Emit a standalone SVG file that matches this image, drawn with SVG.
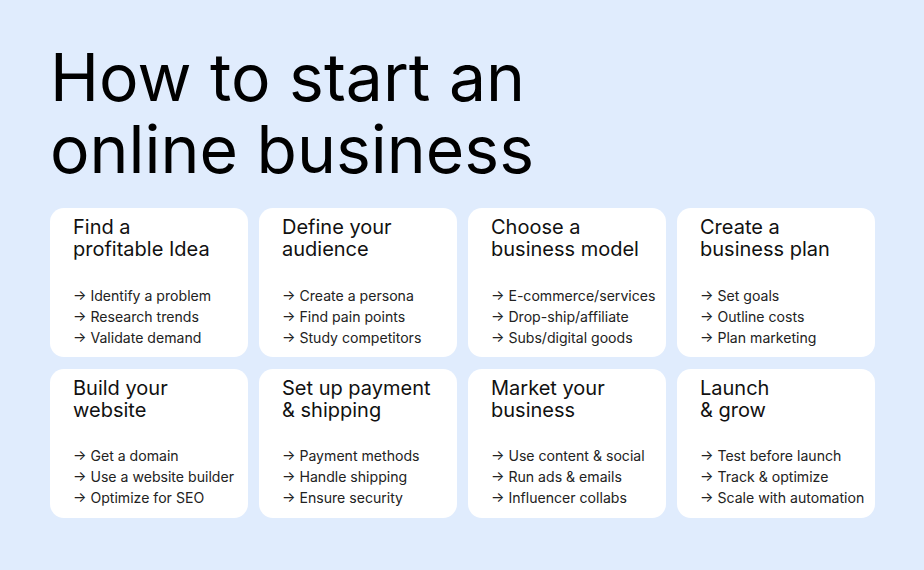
<svg xmlns="http://www.w3.org/2000/svg" width="924" height="570" viewBox="0 0 924 570">
<style>
.card{fill:#fff}
.h{font-family:Inter,"Liberation Sans",sans-serif;font-size:20px;fill:#111}
.b{font-family:Inter,"Liberation Sans",sans-serif;font-size:14.1px;fill:#222}
.t{font-family:Inter,"Liberation Sans",sans-serif;font-size:66px;fill:#000}
</style>
<rect width="924" height="570" fill="#e0ecfd"/>
<text class="t" x="50" y="101">How to start an</text>
<text class="t" x="50" y="173">online business</text>
<g id="n1"><rect class="card" x="50" y="208" width="198" height="149" rx="14"/><text class="h" x="73" y="234">Find a</text><text class="h" x="73" y="256">profitable Idea</text><text class="b" x="73" y="301">→ Identify a problem</text><text class="b" x="73" y="322">→ Research trends</text><text class="b" x="73" y="343">→ Validate demand</text></g>
<g id="n2"><rect class="card" x="259" y="208" width="198" height="149" rx="14"/><text class="h" x="282" y="234">Define your</text><text class="h" x="282" y="256">audience</text><text class="b" x="282" y="301">→ Create a persona</text><text class="b" x="282" y="322">→ Find pain points</text><text class="b" x="282" y="343">→ Study competitors</text></g>
<g id="n3"><rect class="card" x="468" y="208" width="198" height="149" rx="14"/><text class="h" x="491" y="234">Choose a</text><text class="h" x="491" y="256">business model</text><text class="b" x="491" y="301">→ E-commerce/services</text><text class="b" x="491" y="322">→ Drop-ship/affiliate</text><text class="b" x="491" y="343">→ Subs/digital goods</text></g>
<g id="n4"><rect class="card" x="677" y="208" width="198" height="149" rx="14"/><text class="h" x="700" y="234">Create a</text><text class="h" x="700" y="256">business plan</text><text class="b" x="700" y="301">→ Set goals</text><text class="b" x="700" y="322">→ Outline costs</text><text class="b" x="700" y="343">→ Plan marketing</text></g>
<g id="n5"><rect class="card" x="50" y="369" width="198" height="149" rx="14"/><text class="h" x="73" y="395">Build your</text><text class="h" x="73" y="417">website</text><text class="b" x="73" y="461">→ Get a domain</text><text class="b" x="73" y="482">→ Use a website builder</text><text class="b" x="73" y="503">→ Optimize for SEO</text></g>
<g id="n6"><rect class="card" x="259" y="369" width="198" height="149" rx="14"/><text class="h" x="282" y="395">Set up payment</text><text class="h" x="282" y="417">&amp; shipping</text><text class="b" x="282" y="461">→ Payment methods</text><text class="b" x="282" y="482">→ Handle shipping</text><text class="b" x="282" y="503">→ Ensure security</text></g>
<g id="n7"><rect class="card" x="468" y="369" width="198" height="149" rx="14"/><text class="h" x="491" y="395">Market your</text><text class="h" x="491" y="417">business</text><text class="b" x="491" y="461">→ Use content &amp; social</text><text class="b" x="491" y="482">→ Run ads &amp; emails</text><text class="b" x="491" y="503">→ Influencer collabs</text></g>
<g id="n8"><rect class="card" x="677" y="369" width="198" height="149" rx="14"/><text class="h" x="700" y="395">Launch</text><text class="h" x="700" y="417">&amp; grow</text><text class="b" x="700" y="461">→ Test before launch</text><text class="b" x="700" y="482">→ Track &amp; optimize</text><text class="b" x="700" y="503">→ Scale with automation</text></g>
<g id="connectors"/>
</svg>
